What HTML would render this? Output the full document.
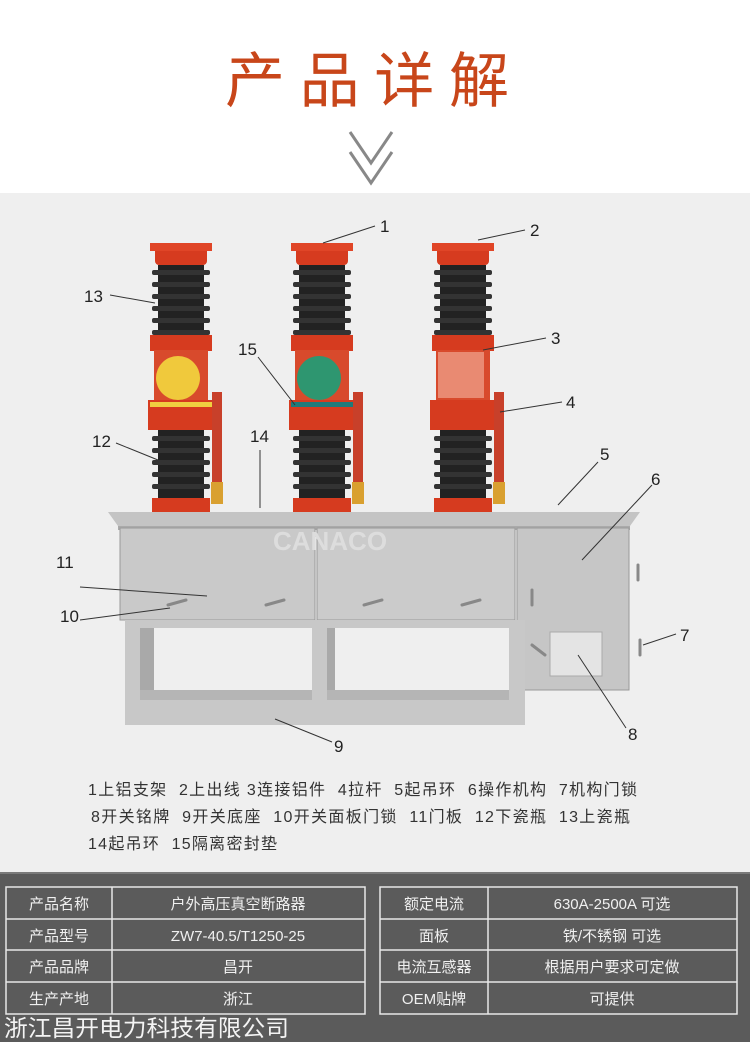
<!DOCTYPE html>
<html><head><meta charset="utf-8"><style>
body{margin:0;width:750px;height:1042px;overflow:hidden;background:#fff;font-family:"Liberation Sans","Noto Sans CJK SC",sans-serif;}
</style></head><body>
<svg width="750" height="1042" viewBox="0 0 750 1042" xmlns="http://www.w3.org/2000/svg" font-family="Liberation Sans, Noto Sans CJK SC, sans-serif">
<rect x="0" y="0" width="750" height="193" fill="#fff"/>
<text x="367" y="102" text-anchor="middle" font-size="60" fill="#c8461a" font-family="Noto Sans CJK SC, sans-serif" textLength="284" lengthAdjust="spacing">产品详解</text>
<polyline points="350,132 371,163 392,132" fill="none" stroke="#888" stroke-width="3"/>
<polyline points="350,152 371,183 392,152" fill="none" stroke="#888" stroke-width="3"/>
<rect x="0" y="193" width="750" height="680" fill="#efefef"/>

<!-- cabinet -->
<polygon points="108,512 640,512 630,526 118,526" fill="#c4c4c4"/>
<rect x="118" y="526" width="512" height="4" fill="#aaa"/>
<rect x="120" y="528" width="195" height="92" fill="#c9c9c9" stroke="#999"/>
<rect x="317" y="528" width="198" height="92" fill="#cbcbcb" stroke="#999"/>
<rect x="517" y="528" width="112" height="162" fill="#c6c6c6" stroke="#999"/>
<rect x="125" y="620" width="400" height="105" fill="#c8c8c8"/>
<rect x="140" y="628" width="172" height="68" fill="#efefef"/>
<rect x="327" y="628" width="182" height="68" fill="#efefef"/>
<rect x="140" y="628" width="14" height="68" fill="#a9a9a9"/>
<rect x="327" y="628" width="8" height="68" fill="#a9a9a9"/>
<rect x="140" y="690" width="172" height="10" fill="#b5b5b5"/>
<rect x="327" y="690" width="182" height="10" fill="#b5b5b5"/>
<rect x="550" y="632" width="52" height="44" fill="#e4e4e4" stroke="#aaa"/>
<g stroke="#888" stroke-width="3" stroke-linecap="round">
<line x1="168" y1="605" x2="186" y2="600"/><line x1="266" y1="605" x2="284" y2="600"/>
<line x1="364" y1="605" x2="382" y2="600"/><line x1="462" y1="605" x2="480" y2="600"/>
<line x1="532" y1="590" x2="532" y2="605"/><line x1="532" y1="645" x2="545" y2="655"/>
<line x1="638" y1="565" x2="638" y2="580"/><line x1="640" y1="640" x2="640" y2="655"/>
</g>
<text x="330" y="550" text-anchor="middle" font-size="26" fill="#ddd" font-weight="bold">CANACO</text>

<!-- poles -->
<g id="pole">
<rect x="155" y="243" width="52" height="22" rx="4" fill="#d63b1f"/>
<rect x="150" y="243" width="62" height="8" fill="#e04527"/>
<rect x="158" y="265" width="46" height="72" fill="#222"/>
<g fill="#333"><rect x="152" y="270" width="58" height="5" rx="2"/><rect x="152" y="282" width="58" height="5" rx="2"/><rect x="152" y="294" width="58" height="5" rx="2"/><rect x="152" y="306" width="58" height="5" rx="2"/><rect x="152" y="318" width="58" height="5" rx="2"/><rect x="152" y="330" width="58" height="5" rx="2"/></g>
<rect x="150" y="335" width="62" height="16" fill="#d63b1f"/>
<rect x="154" y="350" width="54" height="52" fill="#d84a2c"/>
<rect x="148" y="400" width="66" height="30" fill="#d63b1f"/>
<rect x="158" y="430" width="46" height="72" fill="#222"/>
<g fill="#333"><rect x="152" y="436" width="58" height="5" rx="2"/><rect x="152" y="448" width="58" height="5" rx="2"/><rect x="152" y="460" width="58" height="5" rx="2"/><rect x="152" y="472" width="58" height="5" rx="2"/><rect x="152" y="484" width="58" height="5" rx="2"/></g>
<rect x="152" y="498" width="58" height="14" fill="#d63b1f"/>
<rect x="212" y="392" width="10" height="90" fill="#c8402a"/>
<rect x="211" y="482" width="12" height="22" fill="#d9a030"/>
</g>
<use href="#pole" x="141"/>
<use href="#pole" x="282"/>
<circle cx="178" cy="378" r="22" fill="#f0c93c"/>
<rect x="150" y="402" width="62" height="5" fill="#f0d040"/>
<circle cx="319" cy="378" r="22" fill="#2e9670"/>
<rect x="291" y="402" width="62" height="5" fill="#1f7a7a"/>
<rect x="438" y="352" width="46" height="46" fill="#e98a72"/>

<!-- leaders -->
<g stroke="#333" stroke-width="1" fill="none">
<line x1="323" y1="243" x2="375" y2="226"/>
<line x1="478" y1="240" x2="525" y2="230"/>
<line x1="483" y1="350" x2="546" y2="338"/>
<line x1="500" y1="412" x2="562" y2="402"/>
<line x1="558" y1="505" x2="598" y2="462"/>
<line x1="582" y1="560" x2="652" y2="485"/>
<line x1="643" y1="645" x2="676" y2="634"/>
<line x1="578" y1="655" x2="626" y2="728"/>
<line x1="275" y1="719" x2="332" y2="742"/>
<line x1="80" y1="620" x2="170" y2="608"/>
<line x1="80" y1="587" x2="207" y2="596"/>
<line x1="116" y1="443" x2="158" y2="460"/>
<line x1="110" y1="295" x2="155" y2="303"/>
<line x1="258" y1="357" x2="295" y2="405"/>
<line x1="260" y1="450" x2="260" y2="508"/>
</g>
<g font-size="17" fill="#222">
<text x="380" y="232">1</text><text x="530" y="236">2</text><text x="551" y="344">3</text>
<text x="566" y="408">4</text><text x="600" y="460">5</text><text x="651" y="485">6</text>
<text x="680" y="641">7</text><text x="628" y="740">8</text><text x="334" y="752">9</text>
<text x="60" y="622">10</text><text x="56" y="568">11</text><text x="92" y="447">12</text>
<text x="84" y="302">13</text><text x="250" y="442">14</text><text x="238" y="355">15</text>
</g>

<g font-size="16" fill="#333" xml:space="preserve">
<text x="88" y="795" textLength="549" lengthAdjust="spacing" xml:space="preserve">1上铝支架  2上出线 3连接铝件  4拉杆  5起吊环  6操作机构  7机构门锁</text>
<text x="91" y="822" textLength="539" lengthAdjust="spacing" xml:space="preserve">8开关铭牌  9开关底座  10开关面板门锁  11门板  12下瓷瓶  13上瓷瓶</text>
<text x="88" y="849" textLength="189" lengthAdjust="spacing" xml:space="preserve">14起吊环  15隔离密封垫</text>
</g>

<!-- table -->
<rect x="0" y="872" width="750" height="170" fill="#5b5b5b"/>
<rect x="0" y="872" width="750" height="2" fill="#7a7a7a"/>
<g stroke="#e8e8e8" stroke-width="1.5" fill="none">
<rect x="6" y="887" width="359" height="127"/>
<line x1="112" y1="887" x2="112" y2="1014"/>
<line x1="6" y1="919" x2="365" y2="919"/><line x1="6" y1="950" x2="365" y2="950"/><line x1="6" y1="982" x2="365" y2="982"/>
<rect x="380" y="887" width="357" height="127"/>
<line x1="488" y1="887" x2="488" y2="1014"/>
<line x1="380" y1="919" x2="737" y2="919"/><line x1="380" y1="950" x2="737" y2="950"/><line x1="380" y1="982" x2="737" y2="982"/>
</g>
<g font-size="15" fill="#f0f0f0" text-anchor="middle">
<text x="59" y="909">产品名称</text><text x="238" y="909">户外高压真空断路器</text>
<text x="59" y="941">产品型号</text><text x="238" y="941">ZW7-40.5/T1250-25</text>
<text x="59" y="972">产品品牌</text><text x="238" y="972">昌开</text>
<text x="59" y="1004">生产产地</text><text x="238" y="1004">浙江</text>
<text x="434" y="909">额定电流</text><text x="612" y="909">630A-2500A 可选</text>
<text x="434" y="941">面板</text><text x="612" y="941">铁/不锈钢 可选</text>
<text x="434" y="972">电流互感器</text><text x="612" y="972">根据用户要求可定做</text>
<text x="434" y="1004">OEM贴牌</text><text x="612" y="1004">可提供</text>
</g>
<text x="4" y="1036" font-size="23" fill="#f4f4f4" textLength="285" lengthAdjust="spacingAndGlyphs">浙江昌开电力科技有限公司</text>
</svg>
</body></html>
